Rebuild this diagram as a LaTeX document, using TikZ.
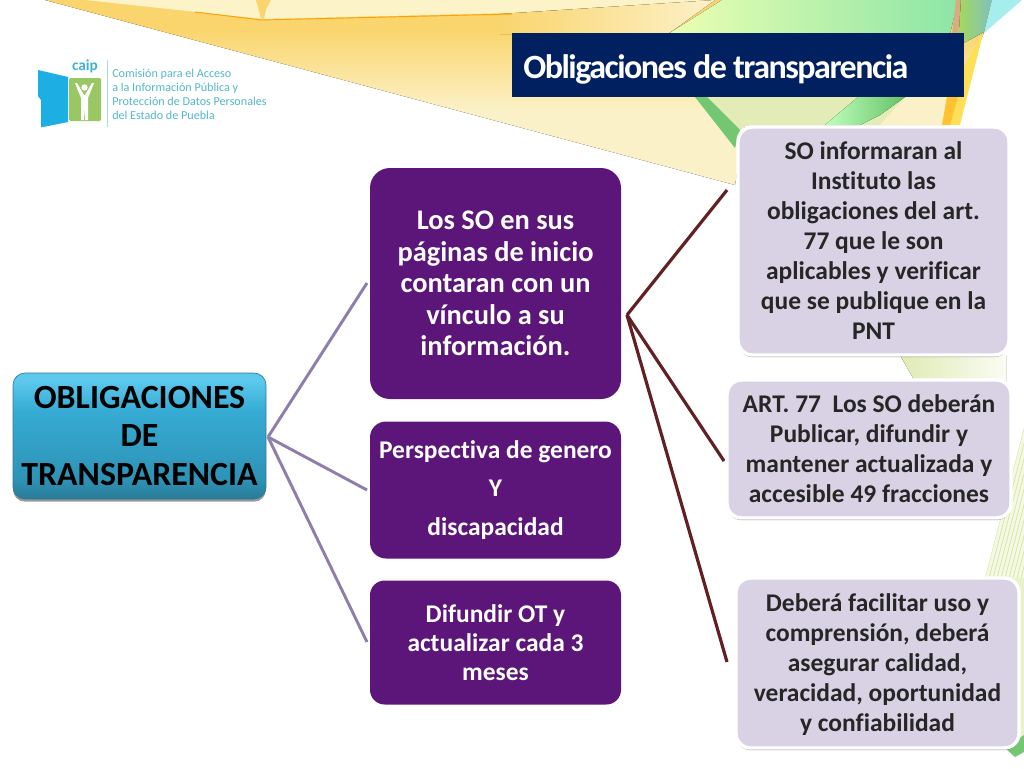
\documentclass[tikz,border=0pt]{standalone}
\usepackage{fontspec}
\setmainfont{Carlito}[Ligatures=NoCommon]
\newfontfamily\titlefont[LetterSpace=-4.4,Ligatures=NoCommon]{Carlito}
\usetikzlibrary{shadows}
\definecolor{rootTop}{HTML}{5CC8EC}
\definecolor{rootMid}{HTML}{36ABD4}
\definecolor{rootLow}{HTML}{2E93B6}
\definecolor{rootBot}{HTML}{2A7A97}
\definecolor{purpleFill}{HTML}{5C1579}
\definecolor{lilacFill}{HTML}{D9D1E4}
\definecolor{lilacText}{HTML}{262626}
\definecolor{purpleLine}{HTML}{8F7EAB}
\definecolor{redLine}{HTML}{632023}
\definecolor{navy}{HTML}{002060}
\definecolor{logoBlue}{HTML}{1DAEE4}
\definecolor{logoGreen}{HTML}{98C763}
\definecolor{logoText}{HTML}{52B6C9}
\definecolor{wedgeTop}{HTML}{FAD56E}
\definecolor{wedgeBot}{HTML}{FBF1C8}
\definecolor{cream}{HTML}{FDF3C9}
\definecolor{paleGreen}{HTML}{DFEBB4}
\definecolor{hatchGreen}{HTML}{D3E59C}
\pgfdeclareverticalshading{rootshade}{100bp}{color(0bp)=(rootBot);color(25bp)=(rootBot);color(33bp)=(rootLow);color(60bp)=(rootMid);color(72bp)=(rootTop);color(100bp)=(rootTop)}
\pgfdeclareverticalshading{wedgeshade}{100bp}{color(0bp)=(wedgeBot);color(45bp)=(wedgeBot);color(67bp)=(wedgeTop);color(100bp)=(wedgeTop)}
\tikzset{
  rootbox/.style={rounded corners=9pt,draw=rootBot,line width=.5pt,shading=rootshade,align=center,text=black,font=\bfseries\fontsize{25.4}{28.6}\selectfont,inner sep=0pt,drop shadow={shadow xshift=0pt,shadow yshift=-2pt,opacity=.4,fill=black}},
  purplebox/.style={rounded corners=15pt,fill=purpleFill,align=center,text=white,font=\bfseries\fontsize{21.3}{23.6}\selectfont,inner sep=0pt},
  lilacbox/.style={rounded corners=11pt,fill=lilacFill,draw=white,line width=2.6pt,align=center,text=lilacText,font=\bfseries\fontsize{19.1}{22.5}\selectfont,inner sep=0pt,drop shadow={shadow xshift=0pt,shadow yshift=-1.6pt,opacity=.4,fill=black}},
  purpleline/.style={draw=purpleLine,line width=2.2pt},
  redline/.style={draw=redLine,line width=2.4pt},
}
\begin{document}
\begin{tikzpicture}[x=0.75pt,y=-0.75pt]
\useasboundingbox (0,0) rectangle (1024,768);
% background ribbons
\fill[shading=wedgeshade] (45,0) -- (735,185) -- (745,125) -- (945,125) -- (985,30) -- (1000,0) -- cycle;
\fill[color=cream] (85,0) -- (262,19) -- (265,0) -- cycle;
\fill[color=cream] (268,0) -- (264,19) -- (512,13) -- (715,0) -- cycle;
\fill[color=wedgeTop] (256,0) -- (261,19) -- (271,0) -- cycle;
\fill[left color=wedgeTop,right color=wedgeBot] (500,14) -- (715,0) -- (668,34) -- (500,34) -- cycle;
\draw[color=orange!75!yellow,line width=.7pt] (195,12) -- (262,20) -- (512,14);
\fill[left color=green!25!yellow!30!white,right color=teal!45!green!45!white] (668,34) -- (722,0) -- (958,0) -- (950,34) -- cycle;
\fill[color=paleGreen!85!wedgeBot] (695,97) -- (735,140) -- (745,125) -- (890,125) -- (905,97) -- cycle;
\fill[color=wedgeBot] (880,125) -- (945,125) -- (945,97) -- (905,97) -- cycle;
\fill[color=green!60!black!55!white] (695,97) -- (707,97) -- (740,130) -- (735,148) -- cycle;
\fill[left color=green!25!white,right color=green!60!black!60!white] (825,125) -- (858,97) -- (905,97) -- (880,115) -- (860,125) -- cycle;
\fill[color=yellow!70!orange!65!white] (947,97) -- (984,30) -- (960,125) -- (942,125) -- cycle;
\fill[color=orange!60!yellow!80!white] (947,97) -- (958,97) -- (950,125) -- (942,125) -- cycle;
\fill[color=brown!65!white] (956,0) -- (962,0) -- (958,34) -- (952,34) -- cycle;
\fill[left color=olive!60!green!50!white,right color=teal!50!white] (961,0) -- (992,0) -- (984,32) -- (958,46) -- cycle;
\fill[color=teal!40!cyan!35!white] (992,0) -- (1022,0) -- (984,33) -- cycle;
% lower right ribbons
\fill[left color=paleGreen,right color=paleGreen!15!white] (900,355) -- (1006,355) -- (1006,385) -- (917,385) -- cycle;
\fill[color=paleGreen!35!white] (1024,428) -- (985,578) -- (1024,578) -- cycle;
\begin{scope}
\clip (1024,428) -- (985,578) -- (1024,578) -- cycle;
\foreach \d in {0,4,...,40} \draw[hatchGreen,line width=.5pt] (1024+\d,428) -- (985+\d,578);
\end{scope}
\fill[color=paleGreen!70!white] (1012,578) rectangle (1024,745);
\fill[color=green!60!black!55!white] (1005,748) -- (1024,735) -- (1024,752) -- (1015,757) -- cycle;
% logo
\fill[logoBlue] (38,70) -- (68,77) -- (68,122) -- (43,127) -- (41,127) -- (41,100) -- (38,96) -- cycle;
\fill[logoGreen,rounded corners=1pt] (69,78) rectangle (101,121);
\fill[white] (84.5,87.5) circle (3.2);
\fill[white] (75,83) -- (77,83) -- (84,95) -- (85,95) -- (92,83) -- (94,83) -- (88,98) -- (88,120) -- (85.2,120) -- (84.7,107) -- (84,120) -- (81,120) -- (81,98) -- cycle;
\draw[logoText!50!white,line width=.4pt] (107,60) -- (107,127);
\node (caiplabel) at (85,66) {\textcolor{logoText!60!logoBlue}{\bfseries\fontsize{11.5}{12}\selectfont caip}};
\node[anchor=north west,align=left,inner sep=0pt,text=logoText,font=\fontsize{9.1}{10.5}\selectfont] (logotext) at (112,68.5) {Comisión para el Acceso\\a la Información Pública y\\Protección de Datos Personales\\del Estado de Puebla};
% title
\node[fill=navy,minimum width=452*0.75pt,minimum height=64*0.75pt,anchor=north west,inner sep=0pt,outer sep=0pt] (titlebar) at (512,33) {};
\node[anchor=base west,inner sep=0pt,text=white] (titletext) at (523,78) {\titlefont\bfseries\fontsize{25.5}{30}\selectfont Obligaciones de transparencia};
% connector ends
\coordinate (h1) at (268,437);
\coordinate (a1) at (367,283);
\coordinate (a2) at (367,490);
\coordinate (a3) at (367,642);
\coordinate (h2) at (627,315);
\coordinate (b1) at (727,190);
\coordinate (b2) at (724,461);
\coordinate (b3) at (727,662);
\draw[purpleline] (h1) -- (a1);
\draw[purpleline] (h1) -- (a2);
\draw[purpleline] (h1) -- (a3);
\draw[redline] (h2) -- (b1);
\draw[redline] (h2) -- (b2);
\draw[redline] (h2) -- (b3);
% boxes
\node[rootbox,minimum width=253*0.75pt,minimum height=126*0.75pt] (root) at (139.5,436) {OBLIGACIONES\\DE\\TRANSPARENCIA};
\node[purplebox,minimum width=251*0.75pt,minimum height=231*0.75pt] (p1) at (495.5,283.5) {Los SO en sus\\páginas de inicio\\contaran con un\\vínculo a su\\información.};
\node[purplebox,rounded corners=12pt,minimum width=251*0.75pt,minimum height=137*0.75pt,font=\bfseries\fontsize{19.1}{21}\selectfont] (p2) at (495.5,490) {Perspectiva de genero\\[8pt]Y\\[8pt]discapacidad};
\node[purplebox,rounded corners=11pt,minimum width=251*0.75pt,minimum height=124*0.75pt,font=\bfseries\fontsize{19.1}{21.8}\selectfont] (p3) at (495.5,642.5) {Difundir OT y\\actualizar cada 3\\meses};
\node[lilacbox,minimum width=271*0.75pt,minimum height=228*0.75pt] (l1) at (873.5,241) {SO informaran al\\Instituto las\\obligaciones del art.\\77 que le son\\aplicables y verificar\\que se publique en la\\PNT};
\node[lilacbox,minimum width=284*0.75pt,minimum height=138*0.75pt] (l2) at (869,449) {ART. 77\ \ Los SO deberán\\Publicar, difundir y\\mantener actualizada y\\accesible 49 fracciones};
\node[lilacbox,minimum width=283*0.75pt,minimum height=170*0.75pt] (l3) at (877.5,663) {\rule{0pt}{15.5pt}Deberá facilitar uso y\\comprensión, deberá\\asegurar calidad,\\veracidad, oportunidad\\y confiabilidad};
\end{tikzpicture}
\end{document}
